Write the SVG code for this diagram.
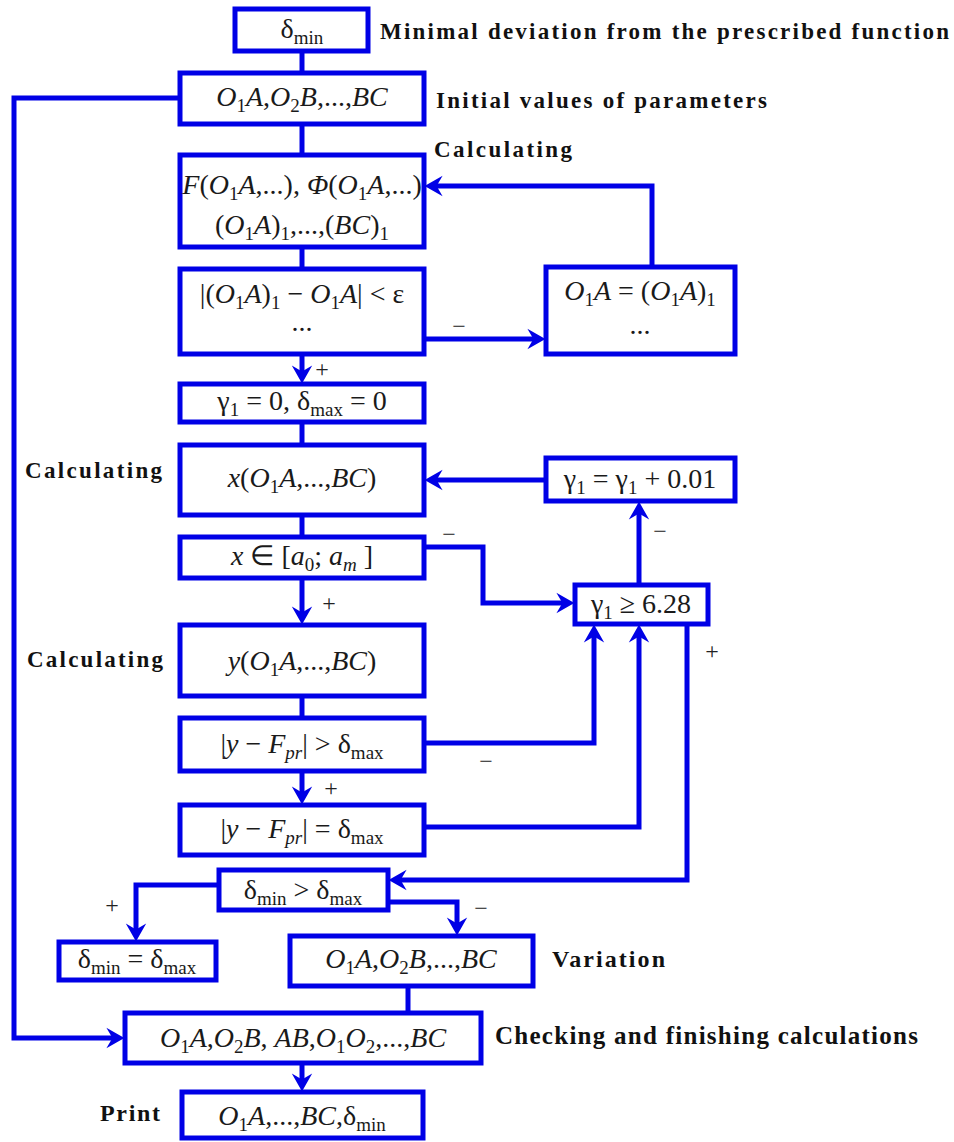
<svg xmlns="http://www.w3.org/2000/svg" width="954" height="1142" viewBox="0 0 954 1142">
<style>
.box{fill:#fff;stroke:#0000e6;stroke-width:5}
.wire{fill:none;stroke:#0000e6;stroke-width:5}
.arr{marker-end:url(#ah)}
.m{font-family:"Liberation Serif","Times New Roman",serif;font-size:28px;fill:#1a1a1a}
.i{font-style:italic}
.s{font-size:19px;font-style:normal}
.si{font-size:19px;font-style:italic}
.lbl{font-family:"Liberation Serif","Times New Roman",serif;font-weight:bold;fill:#111}
.pm{font-family:"Liberation Serif","Times New Roman",serif;font-size:24px;fill:#222}
</style>
<defs>
<marker id="ah" markerUnits="userSpaceOnUse" markerWidth="24" markerHeight="24" viewBox="-10 -10 20 20" refX="0" refY="0" orient="auto">
<path d="M7,0 L-8,-8.5 L-3,0 L-8,8.5 Z" fill="#0000e6"/>
</marker>
</defs>
<rect width="954" height="1142" fill="#fff"/>

<g id="connectors">
<path class="wire" d="M302,51 V73"/>
<path class="wire" d="M302,124 V155"/>
<path class="wire" d="M302,247 V269"/>
<path class="wire arr" d="M302,354 V375"/>
<path class="wire" d="M302,422 V445"/>
<path class="wire" d="M302,515 V537"/>
<path class="wire arr" d="M302,578 V616"/>
<path class="wire" d="M302,696 V718"/>
<path class="wire arr" d="M302,771 V796"/>
<path class="wire" d="M408,986 V1013"/>
<path class="wire arr" d="M302,1063 V1083"/>
<path class="wire arr" d="M180,98 H14 V1038 H116"/>
<path class="wire arr" d="M424,339 H537"/>
<path class="wire arr" d="M652,267 V186 H433"/>
<path class="wire arr" d="M546,480 H433"/>
<path class="wire arr" d="M424,547 H483 V603 H566"/>
<path class="wire arr" d="M639,585 V510"/>
<path class="wire arr" d="M424,743 H594 V633"/>
<path class="wire arr" d="M424,827 H639 V633"/>
<path class="wire arr" d="M687,624 V880 H397"/>
<path class="wire arr" d="M219,885 H136 V933"/>
<path class="wire arr" d="M388,902 H457 V927"/>
<g class="pm" text-anchor="middle">
<text x="322" y="377">+</text>
<text x="459" y="334">−</text>
<text x="449" y="542">−</text>
<text x="329" y="611">+</text>
<text x="660" y="539">−</text>
<text x="712" y="659">+</text>
<text x="486" y="769">−</text>
<text x="331" y="796">+</text>
<text x="112" y="913">+</text>
<text x="481" y="916">−</text>
</g>
</g>

<g id="n-dmin"><rect class="box" x="235" y="9" width="133" height="42"/>
<text class="m" x="302" y="38" text-anchor="middle">δ<tspan class="s" dy="6">min</tspan></text></g>
<text class="lbl" x="380" y="39" font-size="23" textLength="569" lengthAdjust="spacing">Minimal deviation from the prescribed function</text>

<g id="n-init"><rect class="box" x="180" y="73" width="244" height="51"/>
<text class="m" x="302" y="106" text-anchor="middle"><tspan class="i">O</tspan><tspan class="s" dy="6">1</tspan><tspan class="i" dy="-6">A</tspan>,<tspan class="i">O</tspan><tspan class="s" dy="6">2</tspan><tspan class="i" dy="-6">B</tspan>,...,<tspan class="i">BC</tspan></text></g>
<text class="lbl" x="436" y="108" font-size="23" textLength="331" lengthAdjust="spacing">Initial values of parameters</text>

<g id="n-calc1"><rect class="box" x="180" y="155" width="244" height="92"/>
<text class="m" x="302" y="194" text-anchor="middle" font-size="27"><tspan class="i">F</tspan>(<tspan class="i">O</tspan><tspan class="s" dy="6">1</tspan><tspan class="i" dy="-6">A</tspan>,...), <tspan class="i">Φ</tspan>(<tspan class="i">O</tspan><tspan class="s" dy="6">1</tspan><tspan class="i" dy="-6">A</tspan>,...)</text>
<text class="m" x="302" y="234" text-anchor="middle">(<tspan class="i">O</tspan><tspan class="s" dy="6">1</tspan><tspan class="i" dy="-6">A</tspan>)<tspan class="s" dy="6">1</tspan><tspan dy="-6">,...,(</tspan><tspan class="i">BC</tspan>)<tspan class="s" dy="6">1</tspan></text></g>
<text class="lbl" x="434" y="157" font-size="23" textLength="138" lengthAdjust="spacing">Calculating</text>

<g id="n-conv"><rect class="box" x="180" y="269" width="244" height="85"/>
<text class="m" x="302" y="303" text-anchor="middle">|(<tspan class="i">O</tspan><tspan class="s" dy="6">1</tspan><tspan class="i" dy="-6">A</tspan>)<tspan class="s" dy="6">1</tspan><tspan dy="-6"> − </tspan><tspan class="i">O</tspan><tspan class="s" dy="6">1</tspan><tspan class="i" dy="-6">A</tspan>| &lt; ε</text>
<text class="m" x="302" y="331" text-anchor="middle">...</text></g>

<g id="n-upd"><rect class="box" x="546" y="267" width="189" height="87"/>
<text class="m" x="640" y="300" text-anchor="middle"><tspan class="i">O</tspan><tspan class="s" dy="6">1</tspan><tspan class="i" dy="-6">A</tspan> = (<tspan class="i">O</tspan><tspan class="s" dy="6">1</tspan><tspan class="i" dy="-6">A</tspan>)<tspan class="s" dy="6">1</tspan></text>
<text class="m" x="640" y="334" text-anchor="middle">...</text></g>

<g id="n-init2"><rect class="box" x="180" y="384" width="244" height="38"/>
<text class="m" x="302" y="410" text-anchor="middle">γ<tspan class="s" dy="6">1</tspan><tspan dy="-6"> = 0, δ</tspan><tspan class="s" dy="6">max</tspan><tspan dy="-6"> = 0</tspan></text></g>

<g id="n-x"><rect class="box" x="180" y="445" width="244" height="70"/>
<text class="m" x="302" y="487" text-anchor="middle"><tspan class="i">x</tspan>(<tspan class="i">O</tspan><tspan class="s" dy="6">1</tspan><tspan class="i" dy="-6">A</tspan>,...,<tspan class="i">BC</tspan>)</text></g>
<text class="lbl" x="25" y="478" font-size="23" textLength="137" lengthAdjust="spacing">Calculating</text>

<g id="n-ginc"><rect class="box" x="546" y="458" width="189" height="43"/>
<text class="m" x="640" y="488" text-anchor="middle">γ<tspan class="s" dy="6">1</tspan><tspan dy="-6"> = γ</tspan><tspan class="s" dy="6">1</tspan><tspan dy="-6"> + 0.01</tspan></text></g>

<g id="n-xin"><rect class="box" x="180" y="537" width="244" height="41"/>
<text class="m" x="302" y="565" text-anchor="middle"><tspan class="i">x</tspan> ∈ [<tspan class="i">a</tspan><tspan class="s" dy="6">0</tspan><tspan dy="-6">; </tspan><tspan class="i">a</tspan><tspan class="si" dy="6">m</tspan><tspan dy="-6"> ]</tspan></text></g>

<g id="n-g628"><rect class="box" x="575" y="585" width="133" height="39"/>
<text class="m" x="641" y="613" text-anchor="middle">γ<tspan class="s" dy="6">1</tspan><tspan dy="-6"> ≥ 6.28</tspan></text></g>

<g id="n-y"><rect class="box" x="180" y="625" width="244" height="71"/>
<text class="m" x="302" y="670" text-anchor="middle"><tspan class="i">y</tspan>(<tspan class="i">O</tspan><tspan class="s" dy="6">1</tspan><tspan class="i" dy="-6">A</tspan>,...,<tspan class="i">BC</tspan>)</text></g>
<text class="lbl" x="27" y="667" font-size="23" textLength="136" lengthAdjust="spacing">Calculating</text>

<g id="n-gt"><rect class="box" x="180" y="718" width="244" height="53"/>
<text class="m" x="302" y="753" text-anchor="middle">|<tspan class="i">y</tspan> − <tspan class="i">F</tspan><tspan class="si" dy="6">pr</tspan><tspan dy="-6">| &gt; δ</tspan><tspan class="s" dy="6">max</tspan></text></g>

<g id="n-eq"><rect class="box" x="180" y="805" width="244" height="50"/>
<text class="m" x="302" y="838" text-anchor="middle">|<tspan class="i">y</tspan> − <tspan class="i">F</tspan><tspan class="si" dy="6">pr</tspan><tspan dy="-6">| = δ</tspan><tspan class="s" dy="6">max</tspan></text></g>

<g id="n-cmp"><rect class="box" x="219" y="870" width="169" height="40"/>
<text class="m" x="303" y="899" text-anchor="middle">δ<tspan class="s" dy="6">min</tspan><tspan dy="-6"> &gt; δ</tspan><tspan class="s" dy="6">max</tspan></text></g>

<g id="n-assign"><rect class="box" x="59" y="942" width="157" height="38"/>
<text class="m" x="137" y="968" text-anchor="middle">δ<tspan class="s" dy="6">min</tspan><tspan dy="-6"> = δ</tspan><tspan class="s" dy="6">max</tspan></text></g>

<g id="n-var"><rect class="box" x="290" y="936" width="243" height="50"/>
<text class="m" x="411" y="968" text-anchor="middle"><tspan class="i">O</tspan><tspan class="s" dy="6">1</tspan><tspan class="i" dy="-6">A</tspan>,<tspan class="i">O</tspan><tspan class="s" dy="6">2</tspan><tspan class="i" dy="-6">B</tspan>,...,<tspan class="i">BC</tspan></text></g>
<text class="lbl" x="552" y="967" font-size="24" textLength="113" lengthAdjust="spacing">Variation</text>

<g id="n-final"><rect class="box" x="125" y="1013" width="356" height="50"/>
<text class="m" x="303" y="1047" text-anchor="middle"><tspan class="i">O</tspan><tspan class="s" dy="6">1</tspan><tspan class="i" dy="-6">A</tspan>,<tspan class="i">O</tspan><tspan class="s" dy="6">2</tspan><tspan class="i" dy="-6">B</tspan>, <tspan class="i">AB</tspan>,<tspan class="i">O</tspan><tspan class="s" dy="6">1</tspan><tspan class="i" dy="-6">O</tspan><tspan class="s" dy="6">2</tspan><tspan dy="-6">,...,</tspan><tspan class="i">BC</tspan></text></g>
<text class="lbl" x="495" y="1044" font-size="25" textLength="423" lengthAdjust="spacing">Checking and finishing calculations</text>

<g id="n-print"><rect class="box" x="182" y="1092" width="241" height="46"/>
<text class="m" x="302" y="1125" text-anchor="middle"><tspan class="i">O</tspan><tspan class="s" dy="6">1</tspan><tspan class="i" dy="-6">A</tspan>,...,<tspan class="i">BC</tspan>,δ<tspan class="s" dy="6">min</tspan></text></g>
<text class="lbl" x="100" y="1121" font-size="24" textLength="60" lengthAdjust="spacing">Print</text>
</svg>
